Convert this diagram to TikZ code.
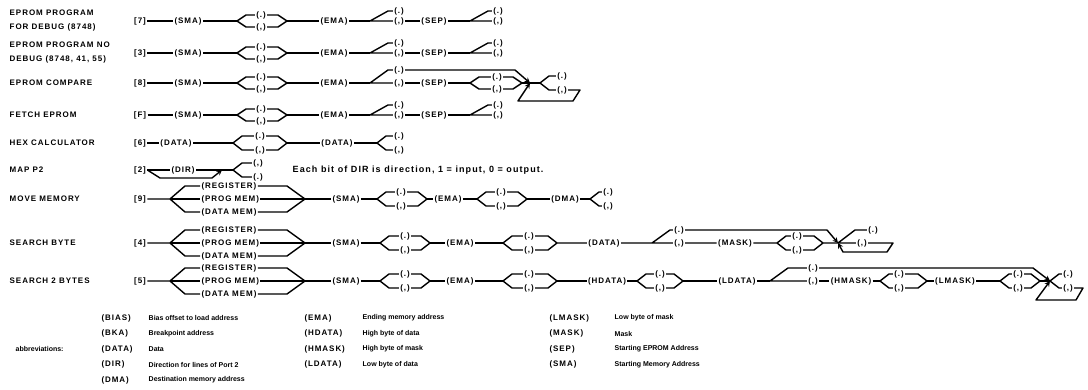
\documentclass[tikz,border=0pt]{standalone}
\usepackage{fontspec}
\setmainfont{Liberation Sans}
\newfontfamily\capsfont{Liberation Sans}[LetterSpace=12]
\newfontfamily\notefont{Liberation Sans}[LetterSpace=12]
\usetikzlibrary{calc}

\tikzset{
  tok/.style={font=\capsfont\bfseries\fontsize{8}{9}\selectfont, inner sep=0.8pt},
  lbl/.style={font=\capsfont\bfseries\fontsize{8}{14}\selectfont, anchor=west, align=left, inner sep=0pt},
  txt/.style={font=\bfseries\fontsize{7}{8}\selectfont, anchor=west, inner sep=0pt},
  note/.style={font=\notefont\bfseries\fontsize{9}{10}\selectfont, anchor=west, inner sep=0pt}
}

% two ways out that meet again
\newcommand{\forkjoin}[8]{%
  \coordinate (#1-in) at (#2,#5);
  \coordinate (#1-out) at (#4,#5);
  \node[tok] (#1-up) at (#3,#5-#6) {#7};
  \node[tok] (#1-dn) at (#3,#5+#6) {#8};
  \draw (#1-in) -- (#2+9,#5-#6) -- (#1-up.west) (#1-up.east) -- (#4-9,#5-#6) -- (#1-out);
  \draw (#1-in) -- (#2+9,#5+#6) -- (#1-dn.west) (#1-dn.east) -- (#4-9,#5+#6) -- (#1-out);
}
% two ways out, open ends
\newcommand{\forkopen}[7]{%
  \coordinate (#1-in) at (#2,#4);
  \node[tok] (#1-up) at (#3,#4-#5) {#6};
  \node[tok] (#1-dn) at (#3,#4+#5) {#7};
  \draw (#1-in) -- (#2+9,#4-#5) -- (#1-up.west) (#1-in) -- (#2+9,#4+#5) -- (#1-dn.west);
}
% straight on, or slant up
\newcommand{\slantfork}[7]{%
  \coordinate (#1-in) at (#2,#4);
  \node[tok] (#1-up) at (#3,#4-#5) {#6};
  \node[tok] (#1-dn) at (#3,#4) {#7};
  \draw (#1-in) -- (#2+18,#4-#5) -- (#1-up.west) (#1-in) -- (#1-dn.west);
}

\begin{document}
\begin{tikzpicture}[x=1pt,y=-1pt,>=stealth,line width=1.4pt,line join=round]
  \useasboundingbox (0,0) rectangle (1088,390);

  % command names
  \node[lbl] (t1) at (9,21)  {EPROM PROGRAM\\FOR DEBUG (8748)};
  \node[lbl] (t2) at (9,53)  {EPROM PROGRAM NO\\DEBUG (8748, 41, 55)};
  \node[lbl] (t3) at (9,83)  {EPROM COMPARE};
  \node[lbl] (t4) at (9,115) {FETCH EPROM};
  \node[lbl] (t5) at (9,143) {HEX CALCULATOR};
  \node[lbl] (t6) at (9,170) {MAP P2};
  \node[lbl] (t7) at (9,199) {MOVE MEMORY};
  \node[lbl] (t8) at (9,243) {SEARCH BYTE};
  \node[lbl] (t9) at (9,281) {SEARCH 2 BYTES};

  % eprom program / fetch
  \foreach \r/\y/\k in {1/21/7,2/53/3,4/115/F}{
    \node[tok] (k\r) at (140,\y) {[\k]};
    \node[tok] (s\r) at (188,\y) {(SMA)};
    \forkjoin{a\r}{237}{261}{287}{\y}{6}{(.)}{(,)}
    \node[tok] (e\r) at (334,\y) {(EMA)};
    \slantfork{b\r}{370}{399}{\y}{10}{(.)}{(,)}
    \node[tok] (p\r) at (434,\y) {(SEP)};
    \slantfork{c\r}{470}{498}{\y}{10}{(.)}{(,)}
    \draw (k\r) -- (s\r) (s\r) -- (a\r-in) (a\r-out) -- (e\r)
          (e\r) -- (b\r-in) (b\r-dn) -- (p\r) (p\r) -- (c\r-in);
  }

  % eprom compare
  \node[tok] (k3) at (140,83) {[8]};
  \node[tok] (s3) at (188,83) {(SMA)};
  \forkjoin{a3}{237}{261}{287}{83}{6}{(.)}{(,)}
  \node[tok] (e3) at (334,83) {(EMA)};
  \slantfork{b3}{370}{399}{83}{13}{(.)}{(,)}
  \node[tok] (p3) at (434,83) {(SEP)};
  \forkjoin{c3}{470}{497}{522}{83}{6}{(.)}{(,)}
  \coordinate (j3) at (530,83);
  \forkopen{d3}{540}{562}{83}{7}{(.)}{(,)}
  \draw (k3) -- (s3) (s3) -- (a3-in) (a3-out) -- (e3) (e3) -- (b3-in)
        (b3-dn) -- (p3) (p3) -- (c3-in) (c3-out) -- (j3) -- (d3-in);
  \draw[->] (b3-up.east) -- (515,70) -- (j3);
  \draw[->] (d3-dn.east) -- (580,90) -- (573,101) -- (518,101) -- (j3);

  % hex calculator
  \node[tok] (k5) at (140,143) {[6]};
  \node[tok] (s5) at (176,143) {(DATA)};
  \forkjoin{a5}{233}{260}{287}{143}{7}{(.)}{(,)}
  \node[tok] (e5) at (337,143) {(DATA)};
  \forkopen{b5}{377}{399}{143}{7}{(.)}{(,)}
  \draw (k5) -- (s5) (s5) -- (a5-in) (a5-out) -- (e5) (e5) -- (b5-in);

  % map p2
  \node[tok] (k6) at (140,170) {[2]};
  \node[tok] (s6) at (183,170) {(DIR)};
  \forkopen{a6}{233}{258}{170}{7}{(,)}{(.)}
  \coordinate (by6) at (222,170);
  \draw (k6) -- (s6) (s6) -- (a6-in);
  \draw[->] (k6.east) -- (160,178) -- (212,178) -- (by6);
  \node[note] (n6) at (292,170) {Each bit of DIR is direction, 1 = input, 0 = output.};

  % move / search: where to look
  \foreach \r/\y/\k in {7/199/9,8/243/4,9/281/5}{
    \node[tok] (k\r) at (140,\y) {[\k]};
    \coordinate (m\r-in) at (170,\y);
    \coordinate (m\r-out) at (305,\y);
    \node[tok,anchor=west] (m\r-reg)  at (200,\y-13) {(REGISTER)};
    \node[tok,anchor=west] (m\r-prog) at (200,\y)    {(PROG MEM)};
    \node[tok,anchor=west] (m\r-data) at (200,\y+13) {(DATA MEM)};
    \node[tok] (s\r) at (346,\y) {(SMA)};
    \draw (k\r) -- (m\r-in) -- (185,\y-13) -- (m\r-reg.west)
          (m\r-reg.east) -- (287,\y-13) -- (m\r-out);
    \draw (m\r-in) -- (m\r-prog.west) (m\r-prog.east) -- (m\r-out);
    \draw (m\r-in) -- (185,\y+13) -- (m\r-data.west)
          (m\r-data.east) -- (287,\y+13) -- (m\r-out);
    \draw (m\r-out) -- (s\r);
  }

  % move memory
  \forkjoin{a7}{377}{401}{427}{199}{7}{(.)}{(,)}
  \node[tok] (e7) at (448,199) {(EMA)};
  \forkjoin{b7}{477}{501}{527}{199}{7}{(.)}{(,)}
  \node[tok] (d7) at (565,199) {(DMA)};
  \forkopen{c7}{590}{608}{199}{7}{(.)}{(,)}
  \draw (s7) -- (a7-in) (a7-out) -- (e7) (e7) -- (b7-in) (b7-out) -- (d7) (d7) -- (c7-in);

  % search byte / 2 bytes: addresses
  \foreach \r/\y in {8/243,9/281}{
    \forkjoin{a\r}{380}{405}{430}{\y}{7}{(.)}{(,)}
    \node[tok] (e\r) at (460,\y) {(EMA)};
    \forkjoin{b\r}{503}{529}{557}{\y}{7}{(.)}{(,)}
    \draw (s\r) -- (a\r-in) (a\r-out) -- (e\r) (e\r) -- (b\r-in);
  }

  % search byte
  \node[tok] (d8) at (604,243) {(DATA)};
  \slantfork{c8}{652}{679}{243}{13}{(.)}{(,)}
  \node[tok] (h8) at (735,243) {(MASK)};
  \forkjoin{f8}{777}{797}{823}{243}{7}{(.)}{(,)}
  \coordinate (j8) at (838,243);
  \node[tok] (g8-up) at (873,230) {(.)};
  \node[tok] (g8-dn) at (862,243) {(,)};
  \draw (b8-out) -- (d8) (d8) -- (c8-in) (c8-dn) -- (h8) (h8) -- (f8-in)
        (f8-out) -- (j8) -- (g8-dn.west) (j8) -- (855,230) -- (g8-up.west);
  \draw[->] (c8-up.east) -- (827,230) -- (j8);
  \draw[->] (g8-dn.east) -- (893,243) -- (887,252) -- (843,252) -- (j8);

  % search 2 bytes
  \node[tok] (d9) at (607,281) {(HDATA)};
  \forkjoin{c9}{637}{660}{683}{281}{7}{(.)}{(,)}
  \node[tok] (l9) at (737,281) {(LDATA)};
  \slantfork{f9}{770}{813}{281}{13}{(.)}{(,)}
  \node[tok] (h9) at (851,281) {(HMASK)};
  \forkjoin{p9}{880}{899}{927}{281}{7}{(.)}{(,)}
  \node[tok] (q9) at (955,281) {(LMASK)};
  \forkjoin{r9}{1000}{1018}{1040}{281}{7}{(.)}{(,)}
  \coordinate (j9) at (1050,281);
  \forkopen{g9}{1050}{1068}{281}{7}{(.)}{(,)}
  \draw (b9-out) -- (d9) (d9) -- (c9-in) (c9-out) -- (l9) (l9) -- (f9-in)
        (f9-dn) -- (h9) (h9) -- (p9-in) (p9-out) -- (q9) (q9) -- (r9-in) (r9-out) -- (j9);
  \draw[->] (f9-up.east) -- (1033,268) -- (j9);
  \draw[->] (g9-dn.east) -- (1083,288) -- (1076,300) -- (1036,300) -- (j9);

  % abbreviations
  \node[txt] (abbr) at (15,349) {abbreviations:};
  \foreach \a/\b [count=\i] in {(BIAS)/Bias offset to load address,(BKA)/Breakpoint address,
      (DATA)/Data,(DIR)/Direction for lines of Port 2,(DMA)/Destination memory address}{
    \node[tok,anchor=west] (ka\i) at (100,302.5+15.5*\i) {\a};
    \node[txt] (da\i) at (148,302.5+15.5*\i) {\b};
  }
  \foreach \a/\b [count=\i] in {(EMA)/Ending memory address,(HDATA)/High byte of data,
      (HMASK)/High byte of mask,(LDATA)/Low byte of data}{
    \node[tok,anchor=west] (kb\i) at (303,302.5+15.5*\i) {\a};
    \node[txt] (db\i) at (362,302.5+15.5*\i) {\b};
  }
  \foreach \a/\b [count=\i] in {(LMASK)/Low byte of mask,(MASK)/Mask,
      (SEP)/Starting EPROM Address,(SMA)/Starting Memory Address}{
    \node[tok,anchor=west] (kc\i) at (548,302.5+15.5*\i) {\a};
    \node[txt] (dc\i) at (614,302.5+15.5*\i) {\b};
  }
\end{tikzpicture}
\end{document}
